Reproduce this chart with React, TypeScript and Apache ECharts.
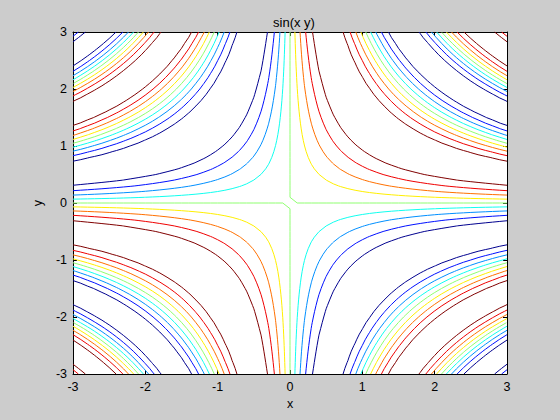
import React, { useEffect, useRef } from "react";
import * as echarts from "echarts";

// Surface: z = sin(x * y) sampled on a regular grid (as named in the title)
const gridStart = -3;
const gridEnd = 3;
const gridCount = 61; // -3:0.1:3
const contourLevels = [-0.8, -0.6, -0.4, -0.2, 0, 0.2, 0.4, 0.6, 0.8];
const levelColors = ["#00008F", "#0010FF", "#008FFF", "#10FFEF", "#8FFF70", "#FFEF00", "#FF7000", "#EF0000", "#800000"];
const xTicks = [-3, -2, -1, 0, 1, 2, 3];
const yTicks = [-3, -2, -1, 0, 1, 2, 3];
const titleText = "sin(x y)";
const xName = "x";
const yName = "y";

const FONT = "Liberation Sans, Arial, Helvetica, sans-serif";

function gridValues(): number[] {
  const n = gridCount - 1;
  const v: number[] = [];
  for (let i = 0; i < gridCount; i++) v.push((i * (gridEnd - gridStart) + gridStart * n) / n);
  return v;
}

function contourPolylines(xs: number[], ys: number[], z: number[][], L: number): number[][][] {
  const nx = xs.length, ny = ys.length;
  const pts: Record<string, number[]> = {};
  const edgePoint = (key: string, xa: number, ya: number, za: number, xb: number, yb: number, zb: number) => {
    if (!pts[key]) {
      const t = (L - za) / (zb - za);
      pts[key] = [xa + t * (xb - xa), ya + t * (yb - ya)];
    }
    return key;
  };
  const segs: [string, string][] = [];
  for (let i = 0; i < nx - 1; i++) {
    for (let j = 0; j < ny - 1; j++) {
      const z0 = z[j][i], z1 = z[j][i + 1], z2 = z[j + 1][i + 1], z3 = z[j + 1][i];
      const a = [z0 > L, z1 > L, z2 > L, z3 > L];
      const e: (string | null)[] = [null, null, null, null];
      if (a[0] !== a[1]) e[0] = edgePoint(`h${i},${j}`, xs[i], ys[j], z0, xs[i + 1], ys[j], z1);
      if (a[1] !== a[2]) e[1] = edgePoint(`v${i + 1},${j}`, xs[i + 1], ys[j], z1, xs[i + 1], ys[j + 1], z2);
      if (a[3] !== a[2]) e[2] = edgePoint(`h${i},${j + 1}`, xs[i], ys[j + 1], z3, xs[i + 1], ys[j + 1], z2);
      if (a[0] !== a[3]) e[3] = edgePoint(`v${i},${j}`, xs[i], ys[j], z0, xs[i], ys[j + 1], z3);
      const present = e.filter((k) => k !== null) as string[];
      if (present.length === 2) {
        segs.push([present[0], present[1]]);
      } else if (present.length === 4) {
        const c = (z0 + z1 + z2 + z3) / 4 > L;
        const cornerEdges: [number, number][] = [[3, 0], [0, 1], [1, 2], [2, 3]];
        for (let k = 0; k < 4; k++) {
          if (a[k] !== c) segs.push([e[cornerEdges[k][0]] as string, e[cornerEdges[k][1]] as string]);
        }
      }
    }
  }
  const byKey: Record<string, number[]> = {};
  segs.forEach((s, idx) => {
    (byKey[s[0]] = byKey[s[0]] || []).push(idx);
    (byKey[s[1]] = byKey[s[1]] || []).push(idx);
  });
  const used = new Array(segs.length).fill(false);
  const lines: number[][][] = [];
  for (let s = 0; s < segs.length; s++) {
    if (used[s]) continue;
    used[s] = true;
    const chain = [segs[s][0], segs[s][1]];
    const extend = (atEnd: boolean) => {
      while (true) {
        const tip = atEnd ? chain[chain.length - 1] : chain[0];
        const cand = (byKey[tip] || []).find((k) => !used[k]);
        if (cand === undefined) break;
        used[cand] = true;
        const other = segs[cand][0] === tip ? segs[cand][1] : segs[cand][0];
        if (atEnd) chain.push(other);
        else chain.unshift(other);
      }
    };
    extend(true);
    extend(false);
    lines.push(chain.map((k) => pts[k]));
  }
  return lines;
}

export default function App() {
  const ref = useRef<HTMLDivElement>(null);
  useEffect(() => {
    if (!ref.current) return;
    const chart = echarts.init(ref.current, undefined, { renderer: "svg" });
    const xs = gridValues();
    const ys = gridValues();
    const z = ys.map((y) => xs.map((x) => Math.sin(x * y)));
    const series: any[] = [];
    contourLevels.forEach((L, li) => {
      contourPolylines(xs, ys, z, L).forEach((pl) => {
        series.push({
          type: "line",
          xAxisIndex: 0,
          yAxisIndex: 0,
          data: pl,
          symbol: "none",
          showSymbol: false,
          silent: true,
          clip: true,
          lineStyle: { color: levelColors[li], width: 1 },
          itemStyle: { color: levelColors[li] },
        });
      });
    });
    const axisCommon = {
      type: "value",
      min: -3,
      max: 3,
      interval: 1,
      axisLine: { show: true, onZero: false, lineStyle: { color: "#000", width: 1 } },
      axisTick: { show: true, inside: true, length: 4, lineStyle: { color: "#000" } },
      splitLine: { show: false },
    };
    chart.setOption({
      animation: false,
      backgroundColor: "#CCCCCC",
      title: {
        text: titleText,
        left: 289,
        textAlign: "center",
        top: 11,
        textStyle: { fontFamily: FONT, fontSize: 13, fontWeight: "normal", color: "#000" },
      },
      grid: { left: 73, top: 32, width: 434, height: 342, show: true, backgroundColor: "#FFFFFF", borderWidth: 0 },
      xAxis: [
        {
          ...axisCommon,
          position: "bottom",
          name: xName,
          nameLocation: "middle",
          nameGap: 21,
          nameTextStyle: { fontFamily: FONT, fontSize: 12.5, color: "#000" },
          axisLabel: {
            fontFamily: FONT, fontSize: 12.5, color: "#000", margin: 6,
            formatter: (v: number) => (xTicks.includes(v) ? String(v) : ""),
          },
        },
        { ...axisCommon, position: "top", axisLabel: { show: false } },
      ],
      yAxis: [
        {
          ...axisCommon,
          position: "left",
          name: yName,
          nameLocation: "middle",
          nameGap: 18,
          nameRotate: 90,
          nameTextStyle: { fontFamily: FONT, fontSize: 12.5, color: "#000" },
          axisLabel: {
            fontFamily: FONT, fontSize: 12.5, color: "#000", margin: 6,
            formatter: (v: number) => (yTicks.includes(v) ? String(v) : ""),
          },
        },
        { ...axisCommon, position: "right", axisLabel: { show: false } },
      ],
      series,
    });
    return () => chart.dispose();
  }, []);
  return (
    <div
      ref={ref}
      style={{ position: "fixed", left: 0, top: 0, width: 560, height: 420 }}
    />
  );
}
